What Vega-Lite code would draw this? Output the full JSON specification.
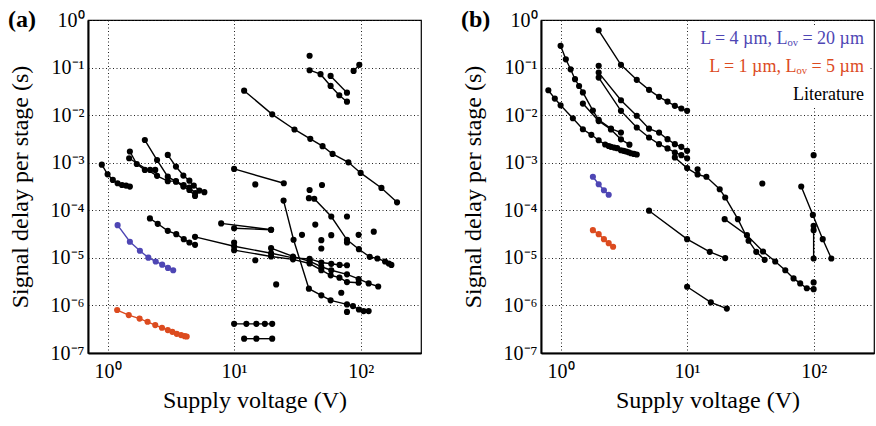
{
  "$schema": "https://vega.github.io/schema/vega-lite/v6.json",
  "padding": {"left": 7, "top": 7, "right": 0, "bottom": 0},
  "background": "white",
  "config": {
    "font": "Liberation Serif",
    "view": {"stroke": "black", "strokeWidth": 1.2},
    "axis": {
      "labelFont": "Liberation Serif", "titleFont": "Liberation Serif",
      "labelFontSize": 20, "titleFontSize": 24, "titleFontWeight": "normal",
      "labelColor": "black", "titleColor": "black",
      "grid": true, "gridColor": "#222", "gridDash": [1, 2.5], "gridWidth": 1, "gridOpacity": 1,
      "ticks": false, "domainColor": "black", "domainWidth": 2
    }
  },
  "datasets": {
    "a": [
      {"s":"a1","g":"K","v":0.9,"d":9.1e-4},{"s":"a1","g":"K","v":1.0,"d":5.7e-4},{"s":"a1","g":"K","v":1.1,"d":4.35e-4},{"s":"a1","g":"K","v":1.2,"d":3.7e-4},{"s":"a1","g":"K","v":1.3,"d":3.4e-4},{"s":"a1","g":"K","v":1.4,"d":3.3e-4},{"s":"a1","g":"K","v":1.5,"d":3.15e-4},
      {"s":"a2","g":"K","v":1.5,"d":1.72e-3},{"s":"a2","g":"K","v":1.7,"d":9.4e-4},{"s":"a2","g":"K","v":1.97,"d":7.05e-4},{"s":"a2","g":"K","v":2.17,"d":7.05e-4},{"s":"a2","g":"K","v":2.38,"d":7.05e-4},
      {"s":"a3","g":"K","v":1.48,"d":1.24e-3},{"s":"a3","g":"K","v":2.46,"d":5.3e-4},{"s":"a3","g":"K","v":2.99,"d":4.1e-4},{"s":"a3","g":"K","v":3.47,"d":4.1e-4},{"s":"a3","g":"K","v":3.99,"d":3.4e-4},{"s":"a3","g":"K","v":4.43,"d":3.0e-4},{"s":"a3","g":"K","v":4.93,"d":2.3e-4},
      {"s":"a4","g":"K","v":1.97,"d":3.0e-3},{"s":"a4","g":"K","v":2.46,"d":1.14e-3},{"s":"a4","g":"K","v":2.99,"d":5.1e-4},{"s":"a4","g":"K","v":3.47,"d":4.0e-4},{"s":"a4","g":"K","v":3.97,"d":3.15e-4},{"s":"a4","g":"K","v":4.43,"d":2.67e-4},{"s":"a4","g":"K","v":4.91,"d":2.0e-4},
      {"s":"a5","g":"K","v":2.99,"d":1.46e-3},{"s":"a5","g":"K","v":3.47,"d":8.3e-4},{"s":"a5","g":"K","v":3.97,"d":5.37e-4},{"s":"a5","g":"K","v":4.43,"d":4.2e-4},{"s":"a5","g":"K","v":4.8,"d":3.3e-4},{"s":"a5","g":"K","v":5.31,"d":2.6e-4},{"s":"a5","g":"K","v":5.82,"d":2.4e-4},
      {"s":"aB","g":"B","v":1.2,"d":4.87e-5},{"s":"aB","g":"B","v":1.5,"d":2.18e-5},{"s":"aB","g":"B","v":1.8,"d":1.41e-5},{"s":"aB","g":"B","v":2.1,"d":1.01e-5},{"s":"aB","g":"B","v":2.4,"d":8.4e-6},{"s":"aB","g":"B","v":2.7,"d":7.2e-6},{"s":"aB","g":"B","v":3.0,"d":6.15e-6},{"s":"aB","g":"B","v":3.3,"d":5.5e-6},
      {"s":"aR","g":"R","v":1.19,"d":8.0e-7},{"s":"aR","g":"R","v":1.47,"d":6.27e-7},{"s":"aR","g":"R","v":1.79,"d":5.3e-7},{"s":"aR","g":"R","v":2.07,"d":4.53e-7},{"s":"aR","g":"R","v":2.38,"d":3.86e-7},{"s":"aR","g":"R","v":2.69,"d":3.39e-7},{"s":"aR","g":"R","v":2.99,"d":3.03e-7},{"s":"aR","g":"R","v":3.25,"d":2.79e-7},{"s":"aR","g":"R","v":3.52,"d":2.53e-7},{"s":"aR","g":"R","v":3.81,"d":2.38e-7},{"s":"aR","g":"R","v":4.07,"d":2.26e-7},{"s":"aR","g":"R","v":4.22,"d":2.22e-7},
      {"s":"a6","g":"K","v":2.16,"d":6.75e-5},{"s":"a6","g":"K","v":2.49,"d":5.2e-5},{"s":"a6","g":"K","v":2.99,"d":3.7e-5},{"s":"a6","g":"K","v":3.49,"d":3.15e-5},{"s":"a6","g":"K","v":4.0,"d":2.47e-5},{"s":"a6","g":"K","v":4.43,"d":2.1e-5},{"s":"a6","g":"K","v":4.91,"d":1.88e-5},
      {"s":"a7","g":"K","v":4.91,"d":2.77e-5},{"s":"a7","g":"K","v":10,"d":1.75e-5},{"s":"a7","g":"K","v":19.6,"d":1.25e-5},{"s":"a7","g":"K","v":29.2,"d":1.0e-5},{"s":"a7","g":"K","v":39.5,"d":9.5e-6},{"s":"a7","g":"K","v":48.9,"d":8.0e-6},{"s":"a7","g":"K","v":58.6,"d":7.5e-6},{"s":"a7","g":"K","v":68.2,"d":7.1e-6},{"s":"a7","g":"K","v":78,"d":7.0e-6},
      {"s":"a8","g":"K","v":10,"d":1.45e-5},{"s":"a8","g":"K","v":19.6,"d":1.07e-5},{"s":"a8","g":"K","v":29.2,"d":9.3e-6},{"s":"a8","g":"K","v":39.5,"d":7.6e-6},{"s":"a8","g":"K","v":48.9,"d":5.5e-6},{"s":"a8","g":"K","v":58,"d":4.3e-6},{"s":"a8","g":"K","v":68,"d":3.84e-6},{"s":"a8","g":"K","v":78,"d":3.1e-6},{"s":"a8","g":"K","v":96.4,"d":3.0e-6},
      {"s":"a9","g":"K","v":19.6,"d":1.6e-5},{"s":"a9","g":"K","v":29.2,"d":1.07e-5},{"s":"a9","g":"K","v":39.5,"d":8.5e-6},{"s":"a9","g":"K","v":48.9,"d":6.5e-6},{"s":"a9","g":"K","v":58.6,"d":5.5e-6},{"s":"a9","g":"K","v":78,"d":4.5e-6},{"s":"a9","g":"K","v":96.4,"d":3.6e-6},{"s":"a9","g":"K","v":115.7,"d":2.9e-6},{"s":"a9","g":"K","v":137.7,"d":2.5e-6},
      {"s":"a10","g":"K","v":7.9,"d":5.3e-5},{"s":"a10","g":"K","v":19.6,"d":3.9e-5},
      {"s":"a11","g":"K","v":10,"d":4.2e-5},{"s":"a11","g":"K","v":19.6,"d":3.9e-5},
      {"s":"a12","g":"K","v":10,"d":7.4e-4},{"s":"a12","g":"K","v":24.7,"d":3.7e-4},
      {"s":"a13","g":"K","v":24.6,"d":1.6e-4},{"s":"a13","g":"K","v":29.5,"d":2.4e-5},{"s":"a13","g":"K","v":39,"d":2.25e-6},{"s":"a13","g":"K","v":48.9,"d":1.63e-6},{"s":"a13","g":"K","v":57.9,"d":1.28e-6},{"s":"a13","g":"K","v":78,"d":1.05e-6},{"s":"a13","g":"K","v":87,"d":9.7e-7},{"s":"a13","g":"K","v":96.9,"d":8.2e-7},{"s":"a13","g":"K","v":105.6,"d":7.6e-7},{"s":"a13","g":"K","v":115.7,"d":7.6e-7},
      {"s":"a14","g":"K","v":39,"d":1.8e-4},{"s":"a14","g":"K","v":43,"d":1.75e-4},{"s":"a14","g":"K","v":58.6,"d":7.4e-5},{"s":"a14","g":"K","v":78,"d":2.4e-5},{"s":"a14","g":"K","v":96.9,"d":1.52e-5},{"s":"a14","g":"K","v":118,"d":1.05e-5},{"s":"a14","g":"K","v":135.6,"d":9.7e-6},{"s":"a14","g":"K","v":156,"d":8.4e-6},{"s":"a14","g":"K","v":167,"d":7.6e-6},{"s":"a14","g":"K","v":175,"d":7.1e-6},
      {"s":"a15","g":"K","v":12,"d":3.27e-2},{"s":"a15","g":"K","v":20,"d":1.04e-2},{"s":"a15","g":"K","v":30,"d":5.0e-3},{"s":"a15","g":"K","v":40,"d":3.18e-3},{"s":"a15","g":"K","v":50,"d":2.23e-3},{"s":"a15","g":"K","v":60,"d":1.53e-3},{"s":"a15","g":"K","v":80,"d":1.02e-3},{"s":"a15","g":"K","v":100,"d":6.1e-4},{"s":"a15","g":"K","v":146,"d":2.95e-4},{"s":"a15","g":"K","v":194,"d":1.47e-4},
      {"s":"a16","g":"K","v":39.5,"d":0.088},{"s":"a16","g":"K","v":48.2,"d":0.0726},{"s":"a16","g":"K","v":57.9,"d":0.0411},{"s":"a16","g":"K","v":67.8,"d":0.0262},{"s":"a16","g":"K","v":78,"d":0.0192},
      {"s":"a17","g":"K","v":57.9,"d":0.0668},{"s":"a17","g":"K","v":78,"d":0.0297},
      {"s":"a18","g":"K","v":88,"d":0.085},{"s":"a18","g":"K","v":97.6,"d":0.114},
      {"s":"a19","g":"K","v":10,"d":4.1e-7},{"s":"a19","g":"K","v":12.5,"d":4.1e-7},{"s":"a19","g":"K","v":15,"d":4.1e-7},{"s":"a19","g":"K","v":17.5,"d":4.1e-7},{"s":"a19","g":"K","v":20,"d":4.1e-7},
      {"s":"a20","g":"K","v":12,"d":2.0e-7},{"s":"a20","g":"K","v":15,"d":2.0e-7},{"s":"a20","g":"K","v":20,"d":2.0e-7},
      {"s":"ai1","g":"K","v":39.5,"d":0.177},{"s":"ai2","g":"K","v":14.7,"d":3.5e-4},{"s":"ai3","g":"K","v":39.5,"d":2.67e-4},{"s":"ai4","g":"K","v":49.5,"d":3.4e-4},{"s":"ai5","g":"K","v":78,"d":7.4e-5},{"s":"ai6","g":"K","v":43.8,"d":5.0e-5},{"s":"ai7","g":"K","v":34.4,"d":3.05e-5},{"s":"ai8","g":"K","v":48.9,"d":2.35e-5},{"s":"ai9","g":"K","v":48.9,"d":1.57e-5},{"s":"ai10","g":"K","v":58.6,"d":3.0e-5},{"s":"ai11","g":"K","v":96.4,"d":3.05e-5},{"s":"ai12","g":"K","v":127,"d":3.55e-5},{"s":"ai13","g":"K","v":14.7,"d":8.9e-6},{"s":"ai14","g":"K","v":21.5,"d":2.77e-6},{"s":"ai15","g":"K","v":70.3,"d":1.85e-6},{"s":"ai16","g":"K","v":78,"d":7.3e-7},{"s":"ai17","g":"K","v":10,"d":2.1e-5},{"s":"ai18","g":"K","v":78,"d":2.1e-5}
    ],
    "b": [
      {"s":"b1","g":"K","v":2,"d":0.608},{"s":"b1","g":"K","v":3,"d":0.114},{"s":"b1","g":"K","v":4,"d":0.0552},{"s":"b1","g":"K","v":5,"d":0.034},{"s":"b1","g":"K","v":6,"d":0.0243},{"s":"b1","g":"K","v":7,"d":0.0193},{"s":"b1","g":"K","v":8,"d":0.0157},{"s":"b1","g":"K","v":9,"d":0.0138},{"s":"b1","g":"K","v":10,"d":0.0123},
      {"s":"b2","g":"K","v":1.0,"d":0.286},{"s":"b2","g":"K","v":1.1,"d":0.149},{"s":"b2","g":"K","v":1.2,"d":0.092},{"s":"b2","g":"K","v":1.3,"d":0.057},{"s":"b2","g":"K","v":1.4,"d":0.041},{"s":"b2","g":"K","v":1.5,"d":0.030},{"s":"b2","g":"K","v":1.8,"d":0.0125},{"s":"b2","g":"K","v":2.0,"d":8.0e-3},{"s":"b2","g":"K","v":2.5,"d":5.2e-3},{"s":"b2","g":"K","v":3.0,"d":4.3e-3},
      {"s":"b3","g":"K","v":1.5,"d":0.0175},{"s":"b3","g":"K","v":2.0,"d":7.5e-3},{"s":"b3","g":"K","v":2.5,"d":5.0e-3},{"s":"b3","g":"K","v":3.0,"d":3.1e-3},{"s":"b3","g":"K","v":3.5,"d":2.4e-3},
      {"s":"b4","g":"K","v":0.8,"d":0.0334},{"s":"b4","g":"K","v":0.9,"d":0.0223},{"s":"b4","g":"K","v":1.0,"d":0.0161},{"s":"b4","g":"K","v":1.25,"d":8.6e-3},{"s":"b4","g":"K","v":1.5,"d":5.06e-3},{"s":"b4","g":"K","v":1.75,"d":3.86e-3},{"s":"b4","g":"K","v":2.0,"d":2.97e-3},{"s":"b4","g":"K","v":2.25,"d":2.41e-3},{"s":"b4","g":"K","v":2.4,"d":2.25e-3},{"s":"b4","g":"K","v":2.5,"d":2.16e-3},{"s":"b4","g":"K","v":2.65,"d":2.08e-3},{"s":"b4","g":"K","v":2.8,"d":2.02e-3},{"s":"b4","g":"K","v":3.0,"d":1.83e-3},{"s":"b4","g":"K","v":3.15,"d":1.78e-3},{"s":"b4","g":"K","v":3.3,"d":1.72e-3},{"s":"b4","g":"K","v":3.45,"d":1.66e-3},{"s":"b4","g":"K","v":3.6,"d":1.58e-3},{"s":"b4","g":"K","v":3.8,"d":1.53e-3},{"s":"b4","g":"K","v":4.0,"d":1.49e-3},
      {"s":"b5","g":"K","v":2.0,"d":0.0785},{"s":"b5","g":"K","v":3.0,"d":0.0206},{"s":"b5","g":"K","v":4.0,"d":9.7e-3},{"s":"b5","g":"K","v":5.0,"d":5.2e-3},{"s":"b5","g":"K","v":6.0,"d":4.3e-3},{"s":"b5","g":"K","v":7.0,"d":3.12e-3},{"s":"b5","g":"K","v":8.0,"d":2.45e-3},{"s":"b5","g":"K","v":9.0,"d":2.16e-3},{"s":"b5","g":"K","v":10,"d":1.78e-3},
      {"s":"b6","g":"K","v":2.0,"d":0.0617},{"s":"b6","g":"K","v":3.0,"d":0.0123},{"s":"b6","g":"K","v":4.0,"d":5.5e-3},{"s":"b6","g":"K","v":5.0,"d":3.39e-3},{"s":"b6","g":"K","v":6.0,"d":2.45e-3},{"s":"b6","g":"K","v":7.0,"d":2.0e-3},{"s":"b6","g":"K","v":8.0,"d":1.64e-3},{"s":"b6","g":"K","v":9.0,"d":1.44e-3},{"s":"b6","g":"K","v":10,"d":1.24e-3},
      {"s":"b7","g":"K","v":8.0,"d":1.29e-3},{"s":"b7","g":"K","v":10,"d":7.7e-4},{"s":"b7","g":"K","v":12.1,"d":5.65e-4},{"s":"b7","g":"K","v":14.2,"d":5.06e-4},{"s":"b7","g":"K","v":18.1,"d":2.77e-4},{"s":"b7","g":"K","v":20,"d":1.86e-4},{"s":"b7","g":"K","v":25.2,"d":6.5e-5},{"s":"b7","g":"K","v":30.6,"d":2.29e-5},{"s":"b7","g":"K","v":35.2,"d":1.34e-5},{"s":"b7","g":"K","v":41,"d":9.1e-6},
      {"s":"b8","g":"K","v":19.8,"d":6.5e-5},{"s":"b8","g":"K","v":29.7,"d":3.0e-5},{"s":"b8","g":"K","v":39.8,"d":1.36e-5},{"s":"b8","g":"K","v":49.7,"d":8.4e-6},{"s":"b8","g":"K","v":59.7,"d":5.5e-6},{"s":"b8","g":"K","v":69.4,"d":3.7e-6},{"s":"b8","g":"K","v":78.3,"d":2.9e-6},{"s":"b8","g":"K","v":88.3,"d":2.3e-6},{"s":"b8","g":"K","v":100,"d":2.2e-6},
      {"s":"b9","g":"K","v":79.8,"d":3.16e-4},{"s":"b9","g":"K","v":98.6,"d":8.0e-5},{"s":"b9","g":"K","v":118,"d":2.47e-5},{"s":"b9","g":"K","v":138,"d":9.7e-6},
      {"s":"b10","g":"K","v":100,"d":4.72e-5},{"s":"b10","g":"K","v":100,"d":3.82e-5},{"s":"b10","g":"K","v":100,"d":9.7e-6},
      {"s":"b11","g":"K","v":5.0,"d":9.8e-5},{"s":"b11","g":"K","v":10,"d":2.47e-5},{"s":"b11","g":"K","v":15.1,"d":1.34e-5},{"s":"b11","g":"K","v":20,"d":9.9e-6},
      {"s":"b12","g":"K","v":10,"d":2.47e-6},{"s":"b12","g":"K","v":15.4,"d":1.16e-6},{"s":"b12","g":"K","v":20.6,"d":8.6e-7},
      {"s":"bB","g":"B","v":1.8,"d":5.06e-4},{"s":"bB","g":"B","v":2.0,"d":3.53e-4},{"s":"bB","g":"B","v":2.2,"d":2.64e-4},{"s":"bB","g":"B","v":2.4,"d":2.12e-4},
      {"s":"bR","g":"R","v":1.8,"d":3.82e-5},{"s":"bR","g":"R","v":2.0,"d":3.15e-5},{"s":"bR","g":"R","v":2.2,"d":2.47e-5},{"s":"bR","g":"R","v":2.4,"d":2.04e-5},{"s":"bR","g":"R","v":2.6,"d":1.71e-5},
      {"s":"bi1","g":"K","v":2.0,"d":0.109},{"s":"bi2","g":"K","v":12.1,"d":7.3e-4},{"s":"bi3","g":"K","v":100,"d":3.04e-6},{"s":"bi4","g":"K","v":100,"d":1.44e-3},{"s":"bi5","g":"K","v":39.3,"d":3.66e-4}
    ]
  },
  "spacing": 38,
  "resolve": {"scale": {"color": "independent"}, "legend": {"color": "independent"}},
  "hconcat": [
    {
      "width": 333, "height": 333,
      "title": {"text": "(a)", "anchor": "start", "frame": "bounds", "offset": -22, "fontSize": 24, "fontWeight": "bold", "font": "Liberation Serif", "color": "black"},
      "data": {"name": "a"},
      "encoding": {
        "x": {"field": "v", "type": "quantitative", "scale": {"type": "log", "domain": [0.7, 300], "nice": false},
              "axis": {"values": [1, 10, 100], "title": "Supply voltage (V)", "labelPadding": 8, "titlePadding": 7,
                       "labelExpr": "datum.value == 1 ? '10⁰' : (datum.value == 10 ? '10¹' : '10²')"}},
        "y": {"field": "d", "type": "quantitative", "scale": {"type": "log", "domain": [1e-7, 1], "nice": false},
              "axis": {"values": [1e-7, 1e-6, 1e-5, 1e-4, 1e-3, 1e-2, 1e-1, 1], "title": "Signal delay per stage (s)", "labelPadding": 4, "titlePadding": 18,
                       "labelExpr": "'10' + (datum.value >= 0.9 ? '⁰' : '⁻' + ['', '¹', '²', '³', '⁴', '⁵', '⁶', '⁷'][round(-log(datum.value) / LN10)])"}},
        "color": {"field": "g", "type": "nominal", "scale": {"domain": ["B", "R", "K"], "range": ["#4E46B4", "#DC4B1F", "black"]}, "legend": null},
        "detail": {"field": "s"}
      },
      "layer": [
        {"mark": {"type": "line", "strokeWidth": 1.4}},
        {"mark": {"type": "circle", "size": 38, "opacity": 1}}
      ]
    },
    {
      "width": 333, "height": 333,
      "title": {"text": "(b)", "anchor": "start", "frame": "bounds", "offset": -22, "fontSize": 24, "fontWeight": "bold", "font": "Liberation Serif", "color": "black"},
      "data": {"name": "b"},
      "encoding": {
        "x": {"field": "v", "type": "quantitative", "scale": {"type": "log", "domain": [0.7, 300], "nice": false},
              "axis": {"values": [1, 10, 100], "title": "Supply voltage (V)", "labelPadding": 8, "titlePadding": 7,
                       "labelExpr": "datum.value == 1 ? '10⁰' : (datum.value == 10 ? '10¹' : '10²')"}},
        "y": {"field": "d", "type": "quantitative", "scale": {"type": "log", "domain": [1e-7, 1], "nice": false},
              "axis": {"values": [1e-7, 1e-6, 1e-5, 1e-4, 1e-3, 1e-2, 1e-1, 1], "title": "Signal delay per stage (s)", "labelPadding": 4, "titlePadding": 18,
                       "labelExpr": "'10' + (datum.value >= 0.9 ? '⁰' : '⁻' + ['', '¹', '²', '³', '⁴', '⁵', '⁶', '⁷'][round(-log(datum.value) / LN10)])"}},
        "color": {"field": "g", "type": "nominal", "scale": {"domain": ["B", "R", "K"], "range": ["#4E46B4", "#DC4B1F", "black"]},
                  "legend": {"orient": "top-right", "title": null, "offset": 6, "padding": 4, "fillColor": "white", "labelFont": "Liberation Serif", "labelFontSize": 18, "labelAlign": "right", "labelLimit": 0, "labelOffset": 150,
                             "symbolOpacity": 0, "symbolSize": 1, "symbolStrokeWidth": 0, "rowPadding": 10,
                             "labelExpr": "datum.label == 'B' ? 'L = 4 µm, Lₒᵥ = 20 µm' : (datum.label == 'R' ? 'L = 1 µm, Lₒᵥ = 5 µm' : 'Literature')",
                             "labelColor": {"expr": "datum.value == 'B' ? '#4E46B4' : (datum.value == 'R' ? '#DC4B1F' : 'black')"}}},
        "detail": {"field": "s"}
      },
      "layer": [
        {"mark": {"type": "line", "strokeWidth": 1.4}},
        {"mark": {"type": "circle", "size": 38, "opacity": 1}}
      ]
    }
  ]
}
